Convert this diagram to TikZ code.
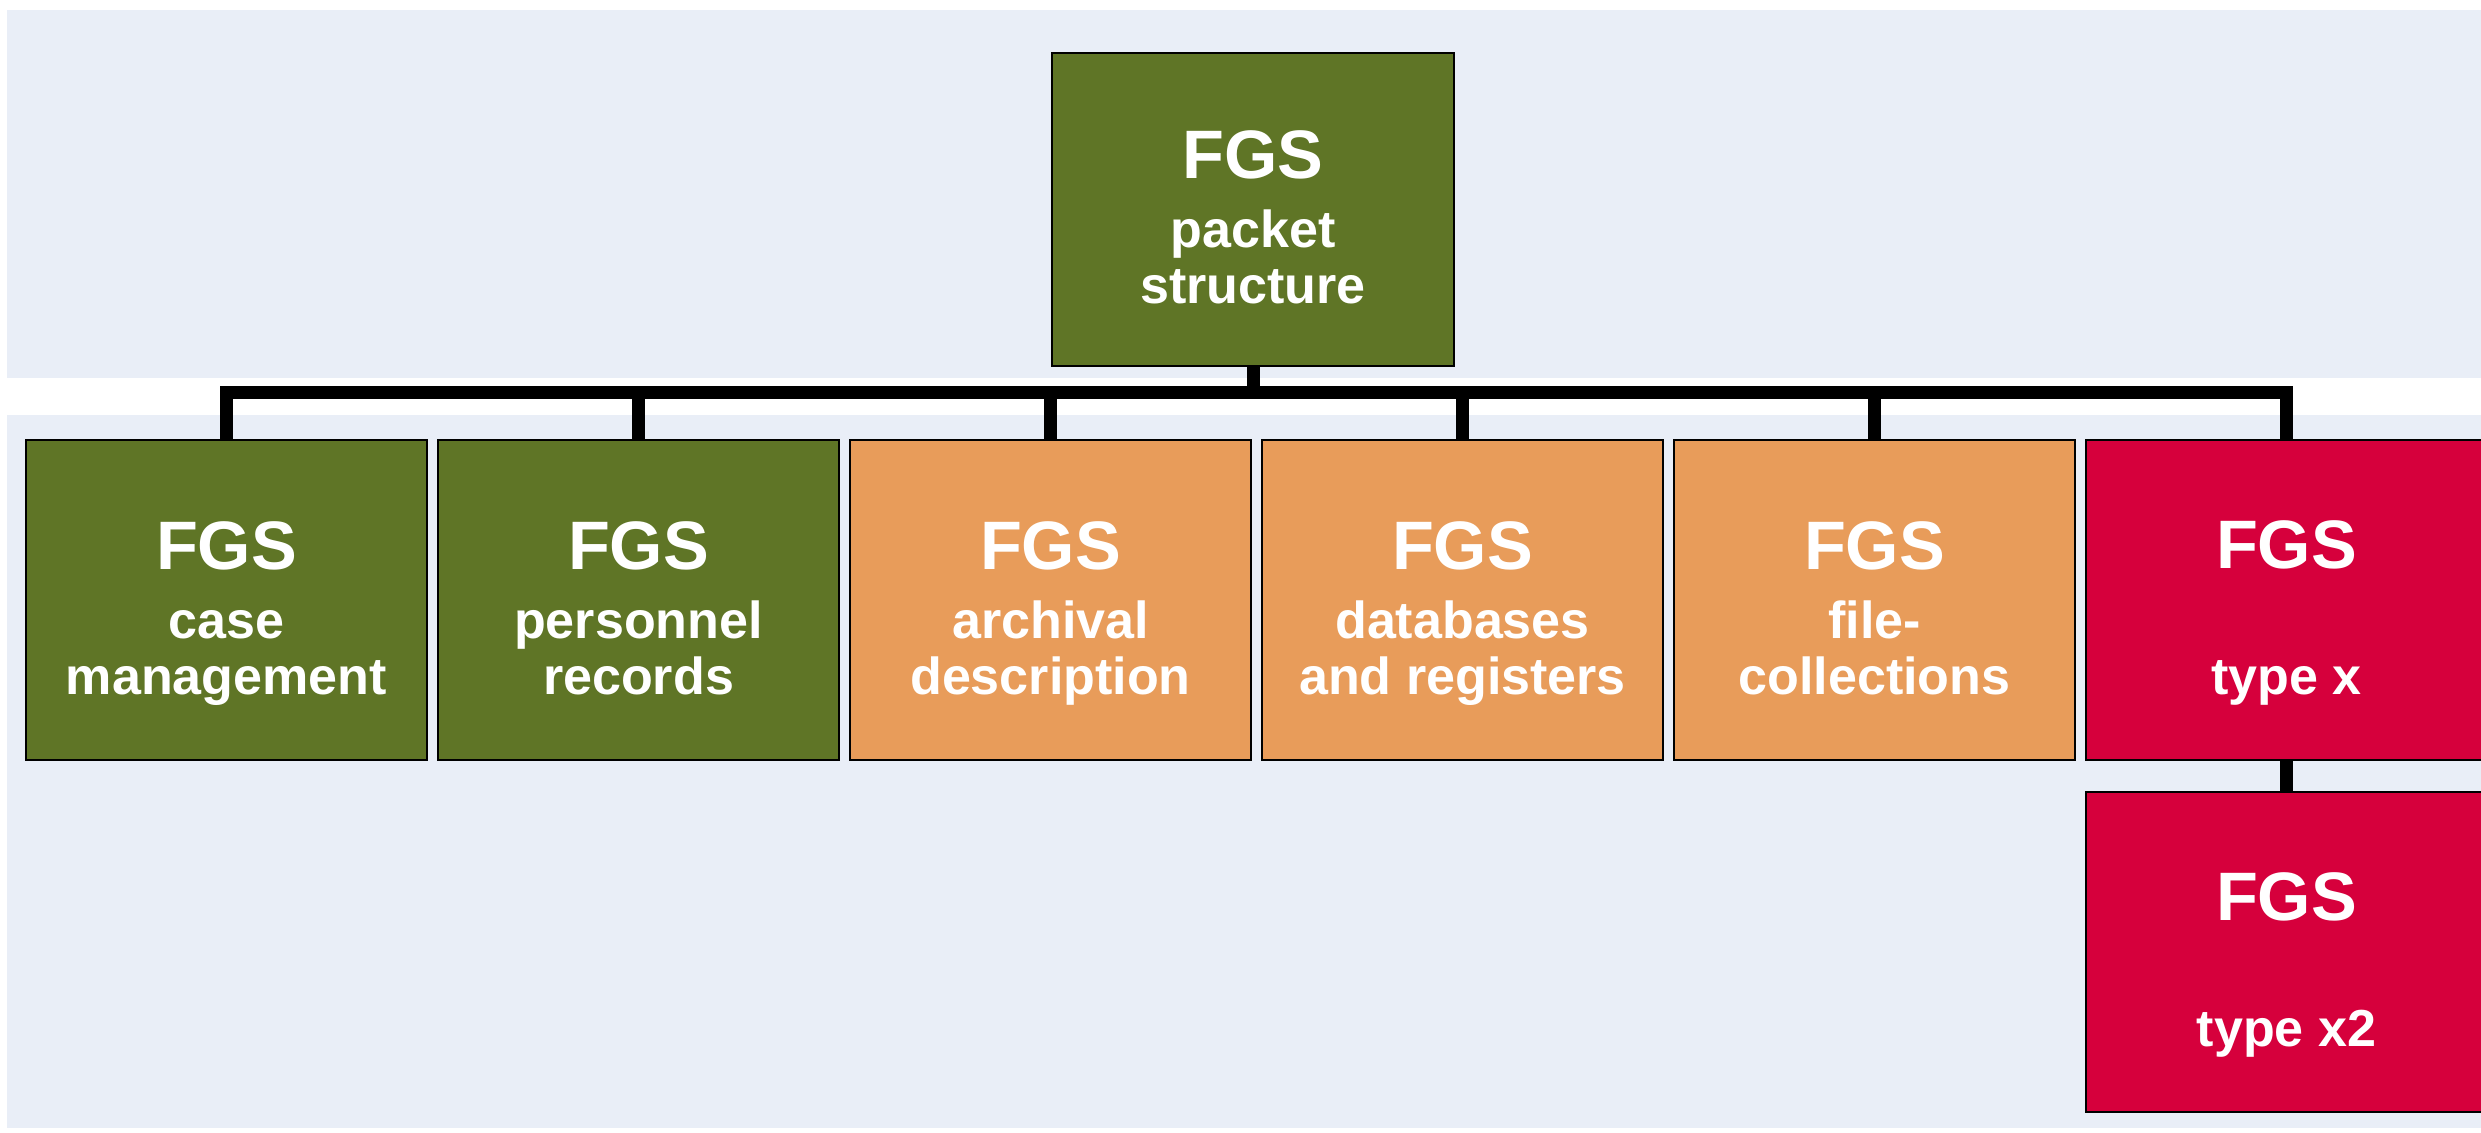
\documentclass[tikz,border=0pt]{standalone}
\usepackage{fontspec}
\setmainfont{Liberation Sans}
\definecolor{bandblue}{HTML}{E9EEF7}
\definecolor{fgsgreen}{HTML}{5F7526}
\definecolor{fgsorange}{HTML}{E89C5A}
\definecolor{fgsred}{HTML}{D6003C}
% title line with a strut on top, fixed depth for the last line
\newcommand{\fgs}{{\fontsize{19.5}{20}\selectfont\rule{0pt}{21.2pt}FGS}}
\newcommand{\dpfix}{\rule[-3.2pt]{0pt}{0pt}}
\tikzset{
  fgsbox/.style={draw=black, line width=0.6pt, minimum width=4.01cm,
    minimum height=3.2cm, inner sep=0pt, align=center, text=white,
    font=\bfseries\fontsize{14.8}{15.9}\selectfont},
  link/.style={line width=3.7pt, line join=miter}
}
\begin{document}
\begin{tikzpicture}[x=0.01cm, y=-0.01cm]
      \useasboundingbox (0,0) rectangle (2481,1132);
      \clip (0,0) rectangle (2481,1132);
      \fill[bandblue] (7,10) rectangle (2481,378);
      \fill[bandblue] (7,415) rectangle (2481,1128);
      \draw
        (1253,209.5) node[fgsbox, fill=fgsgreen, minimum width=4.02cm, minimum height=3.13cm] (top){\fgs\\[3.7pt]packet\\structure\dpfix}
        (226.5,600) node[fgsbox, fill=fgsgreen] (case){\fgs\\[3.7pt]case\\management\dpfix}
        (638.5,600) node[fgsbox, fill=fgsgreen] (personnel){\fgs\\[3.7pt]personnel\\records\dpfix}
        (1050.5,600) node[fgsbox, fill=fgsorange] (archival){\fgs\\[3.7pt]archival\\description\dpfix}
        (1462.5,600) node[fgsbox, fill=fgsorange] (databases){\fgs\\[3.7pt]databases\\and registers\dpfix}
        (1874.5,600) node[fgsbox, fill=fgsorange] (files){\fgs\\[3.7pt]file-\\collections\dpfix}
        (2286.5,600) node[fgsbox, fill=fgsred] (typex){\fgs\\[20pt]type x\dpfix}
        (2286.5,952) node[fgsbox, fill=fgsred] (typex2){\fgs\\[20pt]type x2\dpfix};
      \coordinate (bus) at (1253,392);
      \begin{scope}[link]
        \draw (top) to (bus);
        \draw (case.north) -- (case.north |- bus) -- (typex.north |- bus) -- (typex.north);
        \draw (personnel.north) to (personnel.north |- bus);
        \draw (archival.north) to (archival.north |- bus);
        \draw (databases.north) to (databases.north |- bus);
        \draw (files.north) to (files.north |- bus);
        \draw (typex) to (typex2);
      \end{scope}
    \end{tikzpicture}
\end{document}
